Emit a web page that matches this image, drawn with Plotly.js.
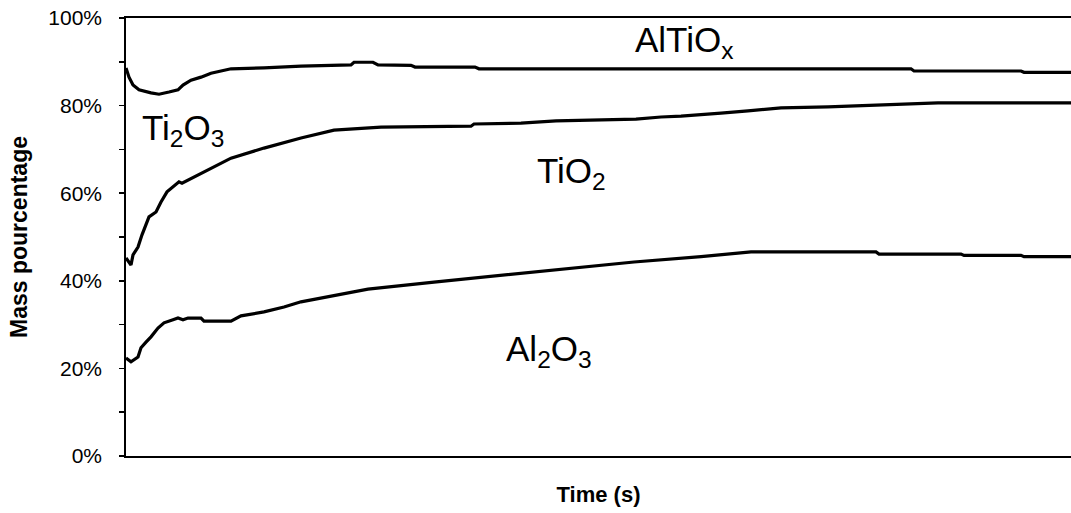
<!DOCTYPE html>
<html>
<head>
<meta charset="utf-8">
<script src="https://cdn.plot.ly/plotly-3.0.1.min.js"></script>
<style>html,body{margin:0;padding:0;background:#fff;}#chart{width:1071px;height:513px;}</style>
</head>
<body>
<div id="chart"></div>
<script>
// Time axis (arbitrary units, no tick labels in the original)
const altioxTime = [0,3,7,13,25,33,43,52,57,65,75,85,95,105,138,175,225,228,247,252,285,289,349,353,785,788,895,898,946];
const altioxMass = [88.6,86.5,84.7,83.6,82.9,82.6,83.1,83.6,84.7,85.8,86.5,87.4,87.9,88.4,88.6,89.0,89.3,89.9,89.9,89.3,89.2,88.8,88.8,88.4,88.4,87.9,87.9,87.6,87.6];

const tio2Time = [0,5,7,12,16,20,23,30,35,41,53,56,68,78,92,105,138,175,208,255,345,348,395,430,510,535,555,575,595,622,655,702,755,812,946];
const tio2Mass = [45.2,43.6,45.9,47.7,50.5,52.7,54.6,55.7,58.0,60.3,62.6,62.3,63.7,64.8,66.4,68.0,70.3,72.6,74.4,75.1,75.3,75.8,76.0,76.5,76.9,77.4,77.6,77.9,78.3,78.8,79.5,79.7,80.1,80.6,80.6];

const al2o3Time = [0,5,12,15,20,25,32,38,47,52,57,62,75,78,105,115,138,158,175,242,308,375,442,508,575,600,625,750,753,835,838,895,898,946];
const al2o3Mass = [22.4,21.5,22.6,24.7,26.0,27.2,29.2,30.4,31.1,31.5,31.1,31.5,31.5,30.8,30.8,32.0,32.9,34.0,35.2,38.1,39.7,41.3,42.9,44.3,45.5,46.1,46.6,46.6,46.1,46.1,45.8,45.8,45.5,45.5];

const labelText = ['AlTiO<sub>x</sub>','Ti<sub>2</sub>O<sub>3</sub>','TiO<sub>2</sub>','Al<sub>2</sub>O<sub>3</sub>'];
const labelTime = [507,14,409,378];
const labelMass = [94.6,74.4,64.7,24.0];

const lineStyle = {color:'#000', width:3.2};
const traces = [
  {x:altioxTime, y:altioxMass, name:'AlTiOx', mode:'lines', line:lineStyle},
  {x:tio2Time, y:tio2Mass, name:'TiO2', mode:'lines', line:lineStyle},
  {x:al2o3Time, y:al2o3Mass, name:'Al2O3', mode:'lines', line:lineStyle}
];

const annotations = labelText.map((t,i)=>({
  text:t, x:labelTime[i], y:labelMass[i], xref:'x', yref:'y',
  xanchor:'left', yanchor:'middle', showarrow:false,
  font:{family:'Liberation Sans, Arial, sans-serif', size:35, color:'#000'}
}));

const layout = {
  width:1071, height:513,
  margin:{l:126, r:0, t:18, b:57, pad:0},
  paper_bgcolor:'#fff', plot_bgcolor:'#fff',
  showlegend:false,
  font:{family:'Liberation Sans, Arial, sans-serif', color:'#000'},
  xaxis:{
    range:[0,945], showgrid:false, zeroline:false,
    showline:true, linecolor:'#000', linewidth:1.8, mirror:true,
    ticks:'', showticklabels:false,
    title:{text:'<b>Time (s)</b>', font:{size:22, color:'#000'}, standoff:30}
  },
  yaxis:{
    range:[0,100], showgrid:false, zeroline:false,
    showline:true, linecolor:'#000', linewidth:1.8,
    ticks:'outside', ticklen:5, tickwidth:1.5, tickcolor:'#000',
    tick0:0, dtick:20, ticksuffix:'%',
    minor:{dtick:10, ticks:'outside', ticklen:5, tickwidth:1.5, tickcolor:'#000', showgrid:false},
    tickfont:{size:21, color:'#000'},
    ticklabelstandoff:13,
    title:{text:'<b>Mass pourcentage</b>', font:{size:23, color:'#000'}, standoff:14}
  },
  annotations:annotations
};

Plotly.newPlot('chart', traces, layout, {displayModeBar:false, staticPlot:true});
</script>
</body>
</html>
